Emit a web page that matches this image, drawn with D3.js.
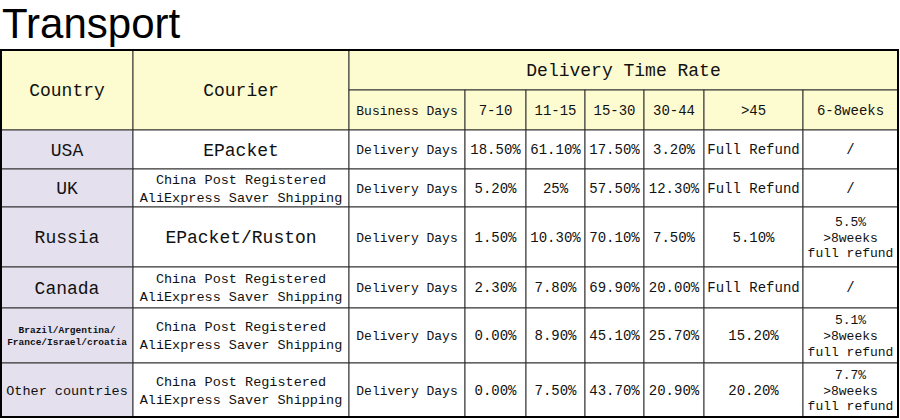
<!DOCTYPE html><html><head><meta charset="utf-8"><script src="https://d3js.org/d3.v7.min.js"></script>
<style>body{margin:0;background:#fff}</style></head><body><svg id="c" width="900" height="420"></svg>
<script>
const countries=["USA","UK","Russia","Canada","Brazil/Argentina/\nFrance/Israel/croatia","Other countries"];
const couriers=["EPacket","China Post Registered\nAliExpress Saver Shipping","EPacket/Ruston","China Post Registered\nAliExpress Saver Shipping","China Post Registered\nAliExpress Saver Shipping","China Post Registered\nAliExpress Saver Shipping"];
const rangeLabels=["Business Days","7-10","11-15","15-30","30-44",">45","6-8weeks"];
const v710=["18.50%","5.20%","1.50%","2.30%","0.00%","0.00%"];
const v1115=["61.10%","25%","10.30%","7.80%","8.90%","7.50%"];
const v1530=["17.50%","57.50%","70.10%","69.90%","45.10%","43.70%"];
const v3044=["3.20%","12.30%","7.50%","20.00%","25.70%","20.90%"];
const v45=["Full Refund","Full Refund","5.10%","Full Refund","15.20%","20.20%"];
const v68=["/","/","5.5%\n>8weeks\nfull refund","/","5.1%\n>8weeks\nfull refund","7.7%\n>8weeks\nfull refund"];

const svg=d3.select("#c");
const F="'Liberation Mono','Courier New',monospace";
svg.append("text").attr("x",2).attr("y",38).attr("font-family","Arial,'Liberation Sans',sans-serif").attr("font-size",42).text("Transport");
const xs=[1,133,349,465,526,585,644,704,803,898];
const ys=[50,90,130,169,207,267,308,363,417];
const hdr="#fdfbd0", lav="#e4e0ee";
function cell(x0,x1,y0,y1,txt,fs,fill,bold){
  svg.append("rect").attr("x",x0).attr("y",y0).attr("width",x1-x0).attr("height",y1-y0).attr("fill",fill||"#fff").attr("stroke","#333").attr("stroke-width",1);
  const lines=String(txt).split("\n"); const lh=lines.length>2?fs*1.2:fs*1.3;
  const cy=(y0+y1)/2-(lines.length-1)*lh/2;
  lines.forEach((l,i)=>svg.append("text").attr("x",(x0+x1)/2).attr("y",cy+i*lh).attr("dy","0.35em").attr("text-anchor","middle")
    .attr("font-family",F).attr("font-size",fs).attr("font-weight",bold?"bold":"normal").attr("fill","#111").text(l));
}
cell(xs[0],xs[1],ys[0],ys[2],"Country",18,hdr);
cell(xs[1],xs[2],ys[0],ys[2],"Courier",18,hdr);
cell(xs[2],xs[9],ys[0],ys[1],"Delivery Time Rate",18,hdr);
rangeLabels.forEach((l,i)=>cell(xs[i+2],xs[i+3],ys[1],ys[2],l,i==0?13:14,hdr));
countries.forEach((c,r)=>{
  const y0=ys[r+2],y1=ys[r+3];
  const small=c.includes("\n");
  cell(xs[0],xs[1],y0,y1,c,small?9.5:(c.length>10?13.5:18),lav,small);
  const cr=couriers[r];
  cell(xs[1],xs[2],y0,y1,cr,cr.includes("\n")?13.5:18);
  const vals=["Delivery Days",v710[r],v1115[r],v1530[r],v3044[r],v45[r],v68[r]];
  vals.forEach((v,i)=>cell(xs[i+2],xs[i+3],y0,y1,v,i==0?13:(i==6&&v.length>2?13:14)));
});
svg.append("rect").attr("x",xs[0]).attr("y",ys[0]).attr("width",xs[9]-xs[0]).attr("height",ys[8]-ys[0]).attr("fill","none").attr("stroke","#000").attr("stroke-width",2);
</script></body></html>
